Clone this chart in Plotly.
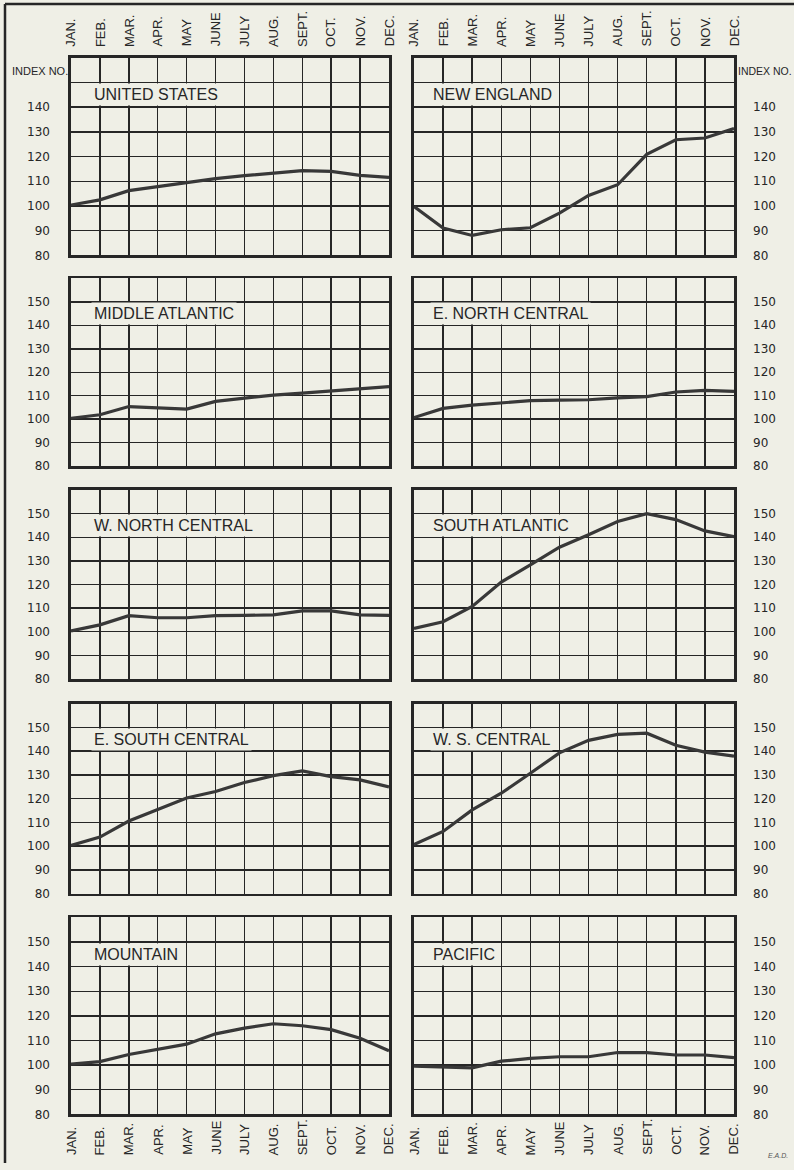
import plotly.graph_objects as go

# ---------------- data ----------------
months = ["JAN.", "FEB.", "MAR.", "APR.", "MAY", "JUNE", "JULY", "AUG.", "SEPT.", "OCT.", "NOV.", "DEC."]

regions = ["UNITED STATES", "NEW ENGLAND", "MIDDLE ATLANTIC", "E. NORTH CENTRAL",
           "W. NORTH CENTRAL", "SOUTH ATLANTIC", "E. SOUTH CENTRAL", "W. S. CENTRAL",
           "MOUNTAIN", "PACIFIC"]

united_states    = [100.4, 102.5, 106.2, 107.8, 109.3, 111.1, 112.3, 113.4, 114.3, 114.0, 112.4, 111.6]
new_england      = [99.8, 91.1, 88.1, 90.4, 91.2, 97.1, 104.3, 108.6, 120.9, 126.8, 127.5, 131.3]
middle_atlantic  = [100.4, 101.9, 105.4, 104.9, 104.3, 107.6, 108.9, 110.3, 111.1, 112.1, 112.9, 113.9]
e_north_central  = [100.7, 104.6, 106.0, 106.9, 107.9, 108.1, 108.3, 109.1, 109.6, 111.6, 112.3, 111.9]
w_north_central  = [100.3, 102.9, 106.8, 105.9, 105.9, 106.8, 106.9, 107.1, 108.8, 108.8, 107.1, 106.9]
south_atlantic   = [101.4, 104.2, 110.7, 121.0, 128.3, 135.8, 141.1, 146.7, 150.0, 147.5, 142.7, 140.3]
e_south_central  = [100.3, 103.8, 110.6, 115.3, 120.3, 123.0, 126.8, 129.7, 131.7, 129.3, 127.9, 125.0]
w_s_central      = [100.7, 106.2, 115.3, 122.3, 130.7, 139.3, 144.6, 147.1, 147.6, 142.5, 139.6, 137.9]
mountain         = [100.4, 101.4, 104.3, 106.5, 108.5, 112.7, 115.0, 116.8, 116.0, 114.4, 110.9, 105.8]
pacific          = [99.6, 99.3, 98.9, 101.6, 102.7, 103.4, 103.4, 105.1, 105.1, 104.1, 104.1, 103.0]

series = [united_states, new_england, middle_atlantic, e_north_central, w_north_central,
          south_atlantic, e_south_central, w_s_central, mountain, pacific]

y_ticks = [80, 90, 100, 110, 120, 130, 140, 150, 160]

# ---------------- layout geometry ----------------
W, H = 794, 1170
BG = "#efefe6"
INK = "#262626"
col_x = [(71, 389), (414, 734)]
row_y = [(58, 257), (280, 469), (493, 683), (708, 899), (923, 1121)]

fig = go.Figure()
layout = dict(
    width=W, height=H,
    margin=dict(l=0, r=0, t=0, b=0),
    paper_bgcolor=BG, plot_bgcolor=BG,
    showlegend=False,
    font=dict(family="Liberation Sans, Arial, sans-serif", color=INK),
)
annotations = []
shapes = []

x_idx = list(range(len(months)))

for i, (name, vals) in enumerate(zip(regions, series)):
    row, col = divmod(i, 2)
    k = i + 1
    xs = "" if k == 1 else str(k)
    x0, x1 = col_x[col]
    yt, yb = row_y[row]

    fig.add_trace(go.Scatter(
        x=x_idx, y=vals, mode="lines",
        line=dict(color="#383838", width=3.2),
        xaxis="x" + xs, yaxis="y" + xs, hoverinfo="skip",
    ))

    ticktext = []
    for v in y_ticks:
        if v == 160 or (row == 0 and v == 150):
            ticktext.append("")
        else:
            ticktext.append(str(v))

    layout["xaxis" + xs] = dict(
        domain=[x0 / W, x1 / W], anchor="y" + xs,
        range=[0, 11], tickvals=x_idx, showticklabels=False, ticks="",
        showgrid=True, gridcolor=INK, gridwidth=1.5, zeroline=False,
        showline=True, mirror=True, linecolor=INK, linewidth=2.6,
        fixedrange=True,
    )
    layout["yaxis" + xs] = dict(
        domain=[1 - yb / H, 1 - yt / H], anchor="x" + xs,
        side="left" if col == 0 else "right",
        range=[80, 160], tickvals=y_ticks, ticktext=ticktext, ticks="",
        ticklabelstandoff=16 if col == 0 else 14,
        tickfont=dict(family="DejaVu Sans, sans-serif", size=12, color=INK),
        showgrid=True, gridcolor=INK, gridwidth=1.5, zeroline=False,
        showline=True, mirror=True, linecolor=INK, linewidth=2.6,
        fixedrange=True,
    )

    # panel title in a blank box that interrupts the vertical grid lines
    annotations.append(dict(
        xref="x" + xs, yref="y" + xs, x=0, y=145,
        xanchor="left", yanchor="middle", xshift=20 if col == 0 else 16,
        text=name, showarrow=False, bgcolor=BG, borderpad=2,
        font=dict(family="Liberation Sans, Arial, sans-serif", size=16, color=INK),
    ))

    # month labels on top row and bottom row
    if row == 0 or row == 4:
        ypix = 48 if row == 0 else 1163
        for m, lab in zip(x_idx, months):
            annotations.append(dict(
                xref="x" + xs, yref="paper", x=m, y=1 - ypix / H,
                xanchor="center", yanchor="bottom", textangle=-90,
                text=lab, showarrow=False, borderpad=0,
                font=dict(family="Liberation Sans, Arial, sans-serif", size=13, color=INK),
            ))

# INDEX NO. labels
annotations.append(dict(xref="paper", yref="paper", x=10 / W, y=1 - 71 / H,
                        xanchor="left", yanchor="middle", text="INDEX NO.", showarrow=False,
                        font=dict(size=11, color=INK)))
annotations.append(dict(xref="paper", yref="paper", x=736 / W, y=1 - 71 / H,
                        xanchor="left", yanchor="middle", text="INDEX NO.", showarrow=False,
                        font=dict(size=10.5, color=INK)))
# signature
annotations.append(dict(xref="paper", yref="paper", x=766 / W, y=1 - 1168 / H,
                        xanchor="left", yanchor="bottom", text="<i>E.A.D.</i>", showarrow=False,
                        font=dict(size=7, color="#555")))

# frame lines
shapes.append(dict(type="line", xref="paper", yref="paper",
                   x0=5 / W, x1=5 / W, y0=0, y1=1 - 4 / H, line=dict(color=INK, width=2.5)))
shapes.append(dict(type="line", xref="paper", yref="paper",
                   x0=5 / W, x1=1, y0=1 - 4 / H, y1=1 - 4 / H, line=dict(color=INK, width=2.5)))

layout["annotations"] = annotations
layout["shapes"] = shapes
fig.update_layout(**layout)
fig.write_html(
    "out.html",
    config={"displayModeBar": False, "staticPlot": True},
    post_script=(
        "document.body.style.margin='0';"
        "document.body.style.padding='0';"
        "document.body.style.overflow='hidden';"
        "document.body.style.background='" + BG + "';"
    ),
)
